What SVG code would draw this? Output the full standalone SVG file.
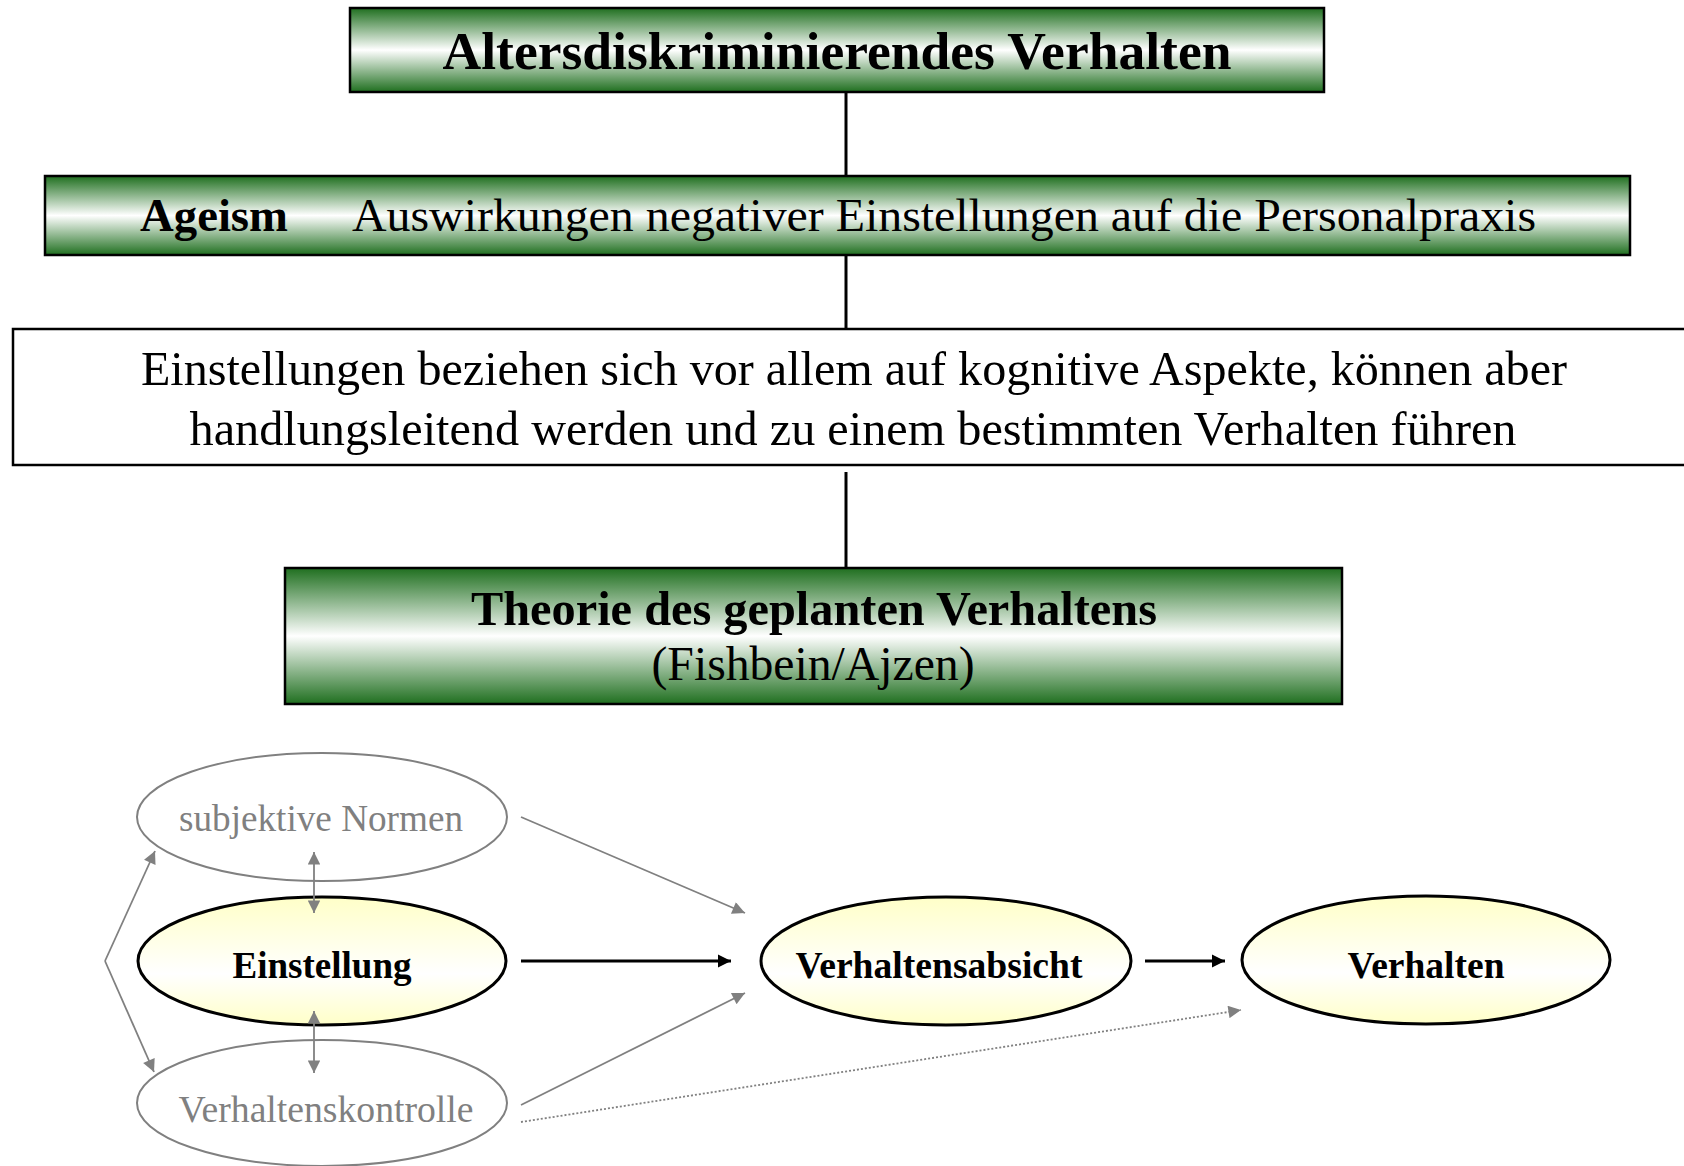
<svg xmlns="http://www.w3.org/2000/svg" width="1684" height="1166" viewBox="0 0 1684 1166">
  <defs>
    <linearGradient id="green" x1="0" y1="0" x2="0" y2="1">
      <stop offset="0" stop-color="#1f6f1f"/>
      <stop offset="0.5" stop-color="#ffffff"/>
      <stop offset="1" stop-color="#1f6f1f"/>
    </linearGradient>
    <linearGradient id="yellow" x1="0" y1="0" x2="0" y2="1">
      <stop offset="0" stop-color="#ffffc8"/>
      <stop offset="0.6" stop-color="#ffffff"/>
      <stop offset="1" stop-color="#ffffc8"/>
    </linearGradient>
    <marker id="ahBlack" viewBox="0 0 10 10" refX="10" refY="5" markerWidth="4.5" markerHeight="4.5" orient="auto" markerUnits="strokeWidth">
      <path d="M0,0 L10,5 L0,10 z" fill="#000"/>
    </marker>
    <marker id="ahGray" viewBox="0 0 10 10" refX="10" refY="5" markerWidth="9" markerHeight="7" orient="auto" markerUnits="strokeWidth">
      <path d="M0,0 L10,5 L0,10 z" fill="#808080"/>
    </marker>
    <marker id="ahGrayStart" viewBox="0 0 10 10" refX="0" refY="5" markerWidth="9" markerHeight="7" orient="auto" markerUnits="strokeWidth">
      <path d="M10,0 L0,5 L10,10 z" fill="#808080"/>
    </marker>
  </defs>
  <style>
    .box { fill: url(#green); stroke: #000; stroke-width: 2.5; }
    .plain { fill: #fff; stroke: #000; stroke-width: 2.5; }
    .t { font-family: "Liberation Serif", "Times New Roman", serif; fill: #000; }
    .b { font-weight: bold; }
    .g { fill: #808080; }
    .eg { fill: #fff; stroke: #808080; stroke-width: 2; }
    .ey { fill: url(#yellow); stroke: #000; stroke-width: 3; }
    .tree { stroke: #000; stroke-width: 3; fill: none; }
    .blk { stroke: #000; stroke-width: 3; fill: none; marker-end: url(#ahBlack); }
    .gry { stroke: #808080; stroke-width: 1.8; fill: none; marker-end: url(#ahGray); }
    .dot { stroke: #808080; stroke-width: 1.8; fill: none; stroke-dasharray: 2 2; marker-end: url(#ahGray); }
  </style>

  <g id="n-altersdiskriminierendes">
    <rect class="box" x="350" y="8" width="974" height="84"/>
    <text class="t b" x="837" y="69" font-size="53" text-anchor="middle" textLength="789" lengthAdjust="spacingAndGlyphs">Altersdiskriminierendes Verhalten</text>
  </g>

  <g id="n-ageism">
    <rect class="box" x="45" y="176" width="1585" height="79"/>
    <text class="t b" x="140" y="231" font-size="47" textLength="148" lengthAdjust="spacingAndGlyphs">Ageism</text>
    <text class="t" x="352" y="231" font-size="47" textLength="1184" lengthAdjust="spacingAndGlyphs">Auswirkungen negativer Einstellungen auf die Personalpraxis</text>
  </g>

  <g id="n-einstellungen">
    <rect class="plain" x="13" y="329" width="1690" height="136"/>
    <text class="t" x="854" y="385" font-size="48" text-anchor="middle" textLength="1426" lengthAdjust="spacingAndGlyphs">Einstellungen beziehen sich vor allem auf kognitive Aspekte, können aber</text>
    <text class="t" x="853" y="445" font-size="48" text-anchor="middle" textLength="1327" lengthAdjust="spacingAndGlyphs">handlungsleitend werden und zu einem bestimmten Verhalten führen</text>
  </g>

  <g id="n-theorie">
    <rect class="box" x="285" y="568" width="1057" height="136"/>
    <text class="t b" x="814" y="625" font-size="48" text-anchor="middle" textLength="686" lengthAdjust="spacingAndGlyphs">Theorie des geplanten Verhaltens</text>
    <text class="t" x="813" y="680" font-size="48" text-anchor="middle" textLength="323" lengthAdjust="spacingAndGlyphs">(Fishbein/Ajzen)</text>
  </g>

  <g id="n-subjektive-normen">
    <ellipse class="eg" cx="322" cy="817" rx="185" ry="64"/>
    <text class="t g" x="321" y="831" font-size="37" text-anchor="middle" textLength="284" lengthAdjust="spacingAndGlyphs">subjektive Normen</text>
  </g>

  <g id="n-einstellung">
    <ellipse class="ey" cx="322" cy="961" rx="184" ry="64"/>
    <text class="t b" x="322" y="978" font-size="37" text-anchor="middle" textLength="179" lengthAdjust="spacingAndGlyphs">Einstellung</text>
  </g>

  <g id="n-verhaltenskontrolle">
    <ellipse class="eg" cx="322" cy="1103" rx="185" ry="63"/>
    <text class="t g" x="326" y="1122" font-size="37" text-anchor="middle" textLength="295" lengthAdjust="spacingAndGlyphs">Verhaltenskontrolle</text>
  </g>

  <g id="n-verhaltensabsicht">
    <ellipse class="ey" cx="946" cy="961" rx="185" ry="64"/>
    <text class="t b" x="939" y="978" font-size="37" text-anchor="middle" textLength="287" lengthAdjust="spacingAndGlyphs">Verhaltensabsicht</text>
  </g>

  <g id="n-verhalten">
    <ellipse class="ey" cx="1426" cy="960" rx="184" ry="64"/>
    <text class="t b" x="1426" y="978" font-size="37" text-anchor="middle" textLength="157" lengthAdjust="spacingAndGlyphs">Verhalten</text>
  </g>

  <g id="connectors">
    <line class="tree" x1="846" y1="92" x2="846" y2="176"/>
    <line class="tree" x1="846" y1="255" x2="846" y2="329"/>
    <line class="tree" x1="846" y1="472" x2="846" y2="568"/>
    <line class="blk" x1="521" y1="961" x2="731" y2="961"/>
    <line class="blk" x1="1145" y1="961" x2="1225" y2="961"/>
    <line class="gry" x1="521" y1="817" x2="745" y2="913"/>
    <line class="gry" x1="521" y1="1105" x2="745" y2="993"/>
    <line class="dot" x1="521" y1="1122" x2="1241" y2="1010"/>
    <line class="gry" x1="314" y1="852" x2="314" y2="913" marker-start="url(#ahGrayStart)"/>
    <line class="gry" x1="314" y1="1011" x2="314" y2="1073" marker-start="url(#ahGrayStart)"/>
    <polyline class="gry" points="105,961 155,851" marker-end="url(#ahGray)"/>
    <polyline class="gry" points="105,961 154,1072" marker-end="url(#ahGray)"/>
  </g>
</svg>
